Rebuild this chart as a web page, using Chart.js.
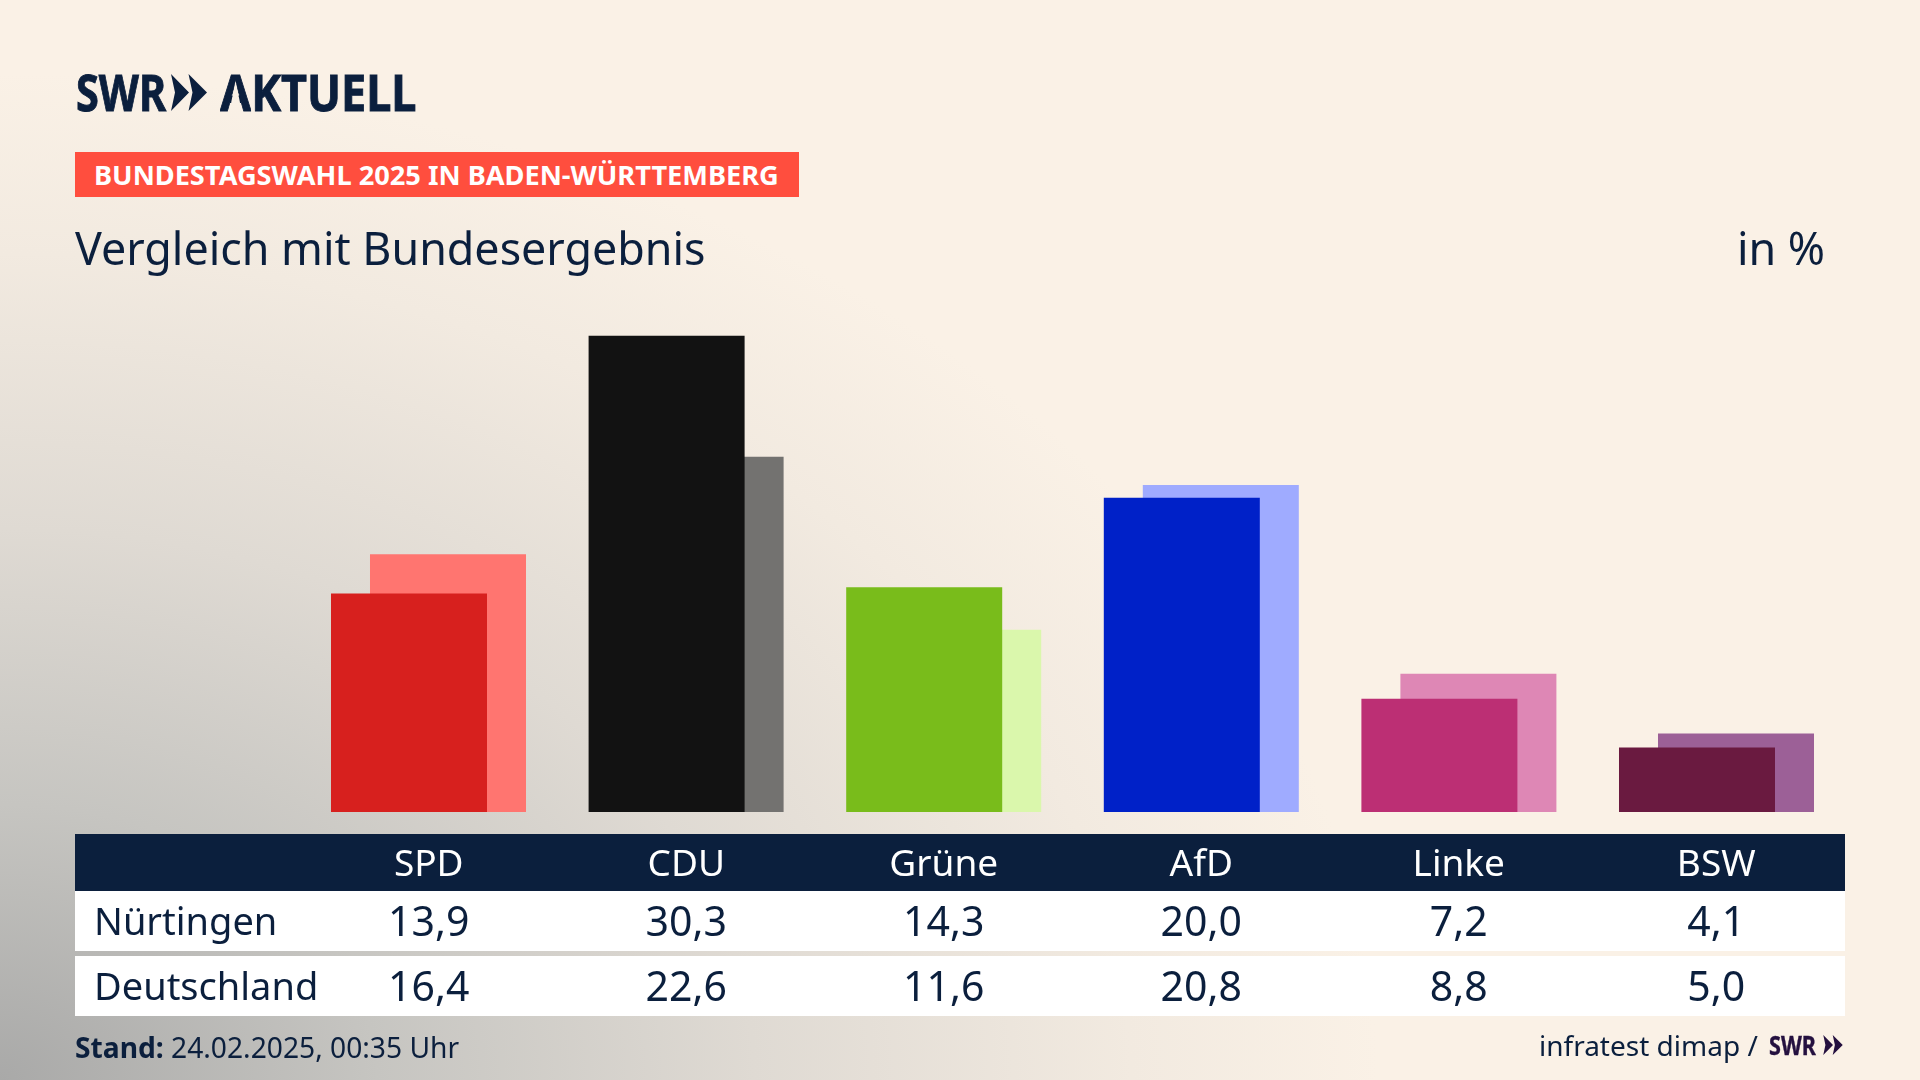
<!DOCTYPE html>
<html lang="de">
<head>
<meta charset="utf-8">
<title>Vergleich mit Bundesergebnis</title>
<script src="https://cdn.jsdelivr.net/npm/chart.js@4"></script>
<style>
  html, body { margin: 0; padding: 0; }
  body { width: 1920px; height: 1080px; overflow: hidden; font-family: "Noto Sans", sans-serif; color: #0b1f3d; }
  #stage {
    position: relative; width: 1920px; height: 1080px; overflow: hidden;
    background-color: #faf1e6;
    background-image: radial-gradient(ellipse 1450px 1060px at 0 1080px, #a9a9a8 0%, #c6c5c1 26%, #dfdad3 52%, #f2eae0 78%, #faf1e6 95%);
  }
  #chart { position: absolute; left: 0; top: 0; }
  .txt { position: absolute; white-space: nowrap; transform-origin: left center; }
  .logo { font-size: 50px; line-height: 58px; font-weight: 700; top: 63px; -webkit-text-stroke: 0.9px #0b1f3d; }
  #logoSwr { left: 76px; transform: scaleX(0.83); }
  #logoName { left: 220px; transform: scaleX(0.90); }
  #logoA { display: inline-block; clip-path: polygon(0 0, 100% 0, 100% 100%, 76% 100%, 50% 30%, 24% 100%, 0 100%); }
  #logoChevrons { position: absolute; left: 171px; top: 74px; }
  #kicker { left: 75px; top: 152px; width: 724px; height: 45px; background: #ff4e3e; }
  #kickerText { left: 94px; top: 152px; line-height: 45px; font-size: 27.2px; font-weight: 700; color: #fff; }
  #title { left: 75px; top: 218px; font-size: 44.8px; line-height: 60px; }
  #unit { right: 95px; top: 218px; font-size: 44.8px; line-height: 60px; }
  #table { position: absolute; left: 75px; top: 834px; width: 1770px; }
  .row { display: grid; grid-template-columns: 225px repeat(6, 257.5px); align-items: center; background: #fff; height: 60px; font-size: 41px; margin-top: 5px; }
  .row.first { margin-top: 0; }
  .row.head { background: #0b1f3d; color: #fff; height: 57px; font-size: 37px; margin-top: 0; }
  .row div { text-align: center; padding-bottom: 2px; }
  .row div:first-child { text-align: left; padding-left: 19px; font-size: 38px; }
  #stand { left: 75px; top: 1027px; font-size: 28.2px; line-height: 40px; }
  #source { left: 1539px; top: 1025px; font-size: 28px; line-height: 40px; }
  #sourceSwr { left: 1769px; top: 1029px; font-size: 27px; line-height: 32px; font-weight: 700; color: #24103f; transform: scaleX(0.8); -webkit-text-stroke: 0.4px #24103f; }
  #sourceChevrons { position: absolute; left: 1822px; top: 1035px; }
</style>
</head>
<body>
<div id="stage">
  <canvas id="chart" width="1920" height="1080"></canvas>
  <div class="txt logo" id="logoSwr">SWR</div>
  <svg id="logoChevrons" width="36" height="37" viewBox="0 0 36 37"><path fill="#0b1f3d" d="M0 0L18 18.5L0 37L4 18.5ZM17.500 0L36 18.500L17.500 37L21.500 18.5Z"/></svg>
  <div class="txt logo" id="logoName"><span id="logoA">A</span>KTUELL</div>
  <div id="kicker" class="txt"></div>
  <div class="txt" id="kickerText">BUNDESTAGSWAHL 2025 IN BADEN-WÜRTTEMBERG</div>
  <div class="txt" id="title">Vergleich mit Bundesergebnis</div>
  <div class="txt" id="unit">in %</div>
  <div id="table"></div>
  <div class="txt" id="stand"><b>Stand:</b> 24.02.2025, 00:35 Uhr</div>
  <div class="txt" id="source">infratest dimap /</div>
  <div class="txt" id="sourceSwr">SWR</div>
  <svg id="sourceChevrons" width="22" height="20" viewBox="0 0 36 37"><path fill="#24103f" d="M0 0L18 18.5L0 37L4 18.5ZM17.500 0L36 18.500L17.500 37L21.500 18.5Z"/></svg>
</div>
<script>
const parties = ['SPD', 'CDU', 'Grüne', 'AfD', 'Linke', 'BSW'];
const nuertingen = [13.9, 30.3, 14.3, 20.0, 7.2, 4.1];
const deutschland = [16.4, 22.6, 11.6, 20.8, 8.8, 5.0];

const frontColors = ['#d7201e', '#121212', '#79bc1b', '#0021c8', '#bc2f74', '#6a1a40'];
const backColors = ['#ff7570', '#737270', '#daf7ac', '#9fabff', '#de87b5', '#9c6097'];

function formatValue(v) {
    return v.toFixed(1).replace('.', ',');
}

function addRow(table, cells, className) {
    const row = document.createElement('div');
    row.className = className;
    cells.forEach(text => {
        const cell = document.createElement('div');
        cell.textContent = text;
        row.appendChild(cell);
    });
    table.appendChild(row);
}

const table = document.getElementById('table');
addRow(table, [''].concat(parties), 'row head');
addRow(table, ['Nürtingen'].concat(nuertingen.map(formatValue)), 'row first');
addRow(table, ['Deutschland'].concat(deutschland.map(formatValue)), 'row');

new Chart(document.getElementById('chart'), {
    type: 'bar',
    data: {
        labels: parties,
        datasets: [
            // first dataset is painted last, so Nürtingen sits in front
            { label: 'Nürtingen', data: nuertingen, backgroundColor: frontColors },
            { label: 'Deutschland', data: deutschland, backgroundColor: backColors }
        ]
    },
    options: {
        responsive: false,
        animation: false,
        // bars are wider than their slot, which makes the pair overlap
        categoryPercentage: 0.3028,
        barPercentage: 4,
        layout: { padding: { left: 299.7, right: 74.7, top: 309, bottom: 268 } },
        scales: {
            x: { display: false },
            y: { display: false, min: 0, max: 32 }
        },
        plugins: {
            legend: { display: false },
            tooltip: { enabled: false }
        }
    }
});
</script>
</body>
</html>
